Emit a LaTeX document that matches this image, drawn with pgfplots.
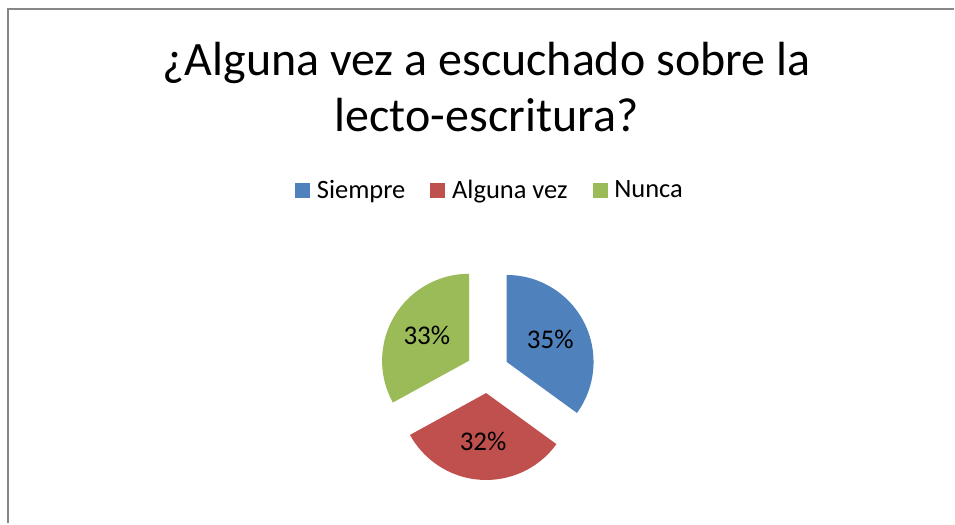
\documentclass[border=0pt]{standalone}
\usepackage{pgfplots}
\pgfplotsset{compat=1.18}
\usepackage{pgfplotstable}
\usepackage{fontspec}
\setmainfont{Carlito}

\definecolor{sblue}{HTML}{4F81BD}
\definecolor{sred}{HTML}{C0504D}
\definecolor{sgreen}{HTML}{9BBB59}
\definecolor{framegray}{HTML}{878787}

\pgfplotstableread[col sep=comma]{
label,pct
Siempre,35
Alguna vez,32
Nunca,33
}\piedata

\begin{document}
\begin{tikzpicture}
% read the shares
\pgfplotstablegetelem{0}{pct}\of\piedata \let\pa\pgfplotsretval
\pgfplotstablegetelem{1}{pct}\of\piedata \let\pb\pgfplotsretval
\pgfplotstablegetelem{2}{pct}\of\piedata \let\pc\pgfplotsretval
% clockwise from 12 o'clock
\pgfmathsetmacro\aA{90}
\pgfmathsetmacro\aB{\aA-3.6*\pa}
\pgfmathsetmacro\aC{\aB-3.6*\pb}
\pgfmathsetmacro\aD{\aC-3.6*\pc}
\pgfmathsetmacro\mA{(\aA+\aB)/2}
\pgfmathsetmacro\mB{(\aB+\aC)/2}
\pgfmathsetmacro\mC{(\aC+\aD)/2}
\def\r{43.5pt}   % radius
\def\d{10.75pt}  % explode
\def\lr{24.5pt}  % label distance
\begin{axis}[
  scale only axis, width=477.5pt, height=262pt,
  xmin=0, xmax=955, ymin=0, ymax=524, y dir=reverse,
  hide axis, clip=false,
  legend image code/.code={\fill[#1] (0pt,-3.5pt) rectangle (7pt,3.5pt);},
  legend columns=3,
  legend style={at={(axis cs:493,191)}, anchor=center, draw=none, fill=none,
    font=\fontsize{13.25}{15}\selectfont,
    nodes={inner xsep=3.5pt},
    /tikz/every even column/.append style={column sep=9pt}},
]
\path (axis cs:0,0) rectangle (axis cs:955,524);
\draw[framegray, line width=1pt] (axis cs:8,524) -- (axis cs:8,9) -- (axis cs:955,9);

\node[anchor=base, font=\fontsize{24}{28}\selectfont] at (axis cs:487,76) {¿Alguna vez a escuchado sobre la};
\node[anchor=base, font=\fontsize{24}{28}\selectfont] at (axis cs:487,132) {lecto-escritura?};

\addlegendimage{sblue}\addlegendentry{Siempre}
\addlegendimage{sred}\addlegendentry{Alguna vez}
\addlegendimage{sgreen}\addlegendentry{Nunca}

\fill[sblue] ([shift={(\mA:\d)}]axis cs:488,372) -- +(\aA:\r) arc[start angle=\aA, end angle=\aB, radius=\r] -- cycle;
\fill[sred] ([shift={(\mB:\d)}]axis cs:488,372) -- +(\aB:\r) arc[start angle=\aB, end angle=\aC, radius=\r] -- cycle;
\fill[sgreen] ([shift={(\mC:\d)}]axis cs:488,372) -- +(\aC:\r) arc[start angle=\aC, end angle=\aD, radius=\r] -- cycle;

\node[font=\fontsize{13.5}{15}\selectfont] at ([shift={(\mA:\d)}, shift={(\mA:\lr)}]axis cs:488,372) {\pa\%};
\node[font=\fontsize{13.5}{15}\selectfont] at ([shift={(\mB:\d)}, shift={(\mB:\lr)}]axis cs:488,372) {\pb\%};
\node[font=\fontsize{13.5}{15}\selectfont] at ([shift={(\mC:\d)}, shift={(\mC:\lr)}]axis cs:488,372) {\pc\%};
\end{axis}
\end{tikzpicture}
\end{document}
